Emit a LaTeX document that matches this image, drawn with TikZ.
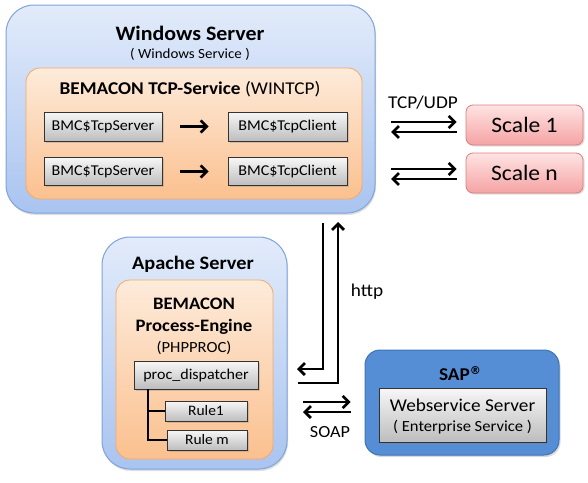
\documentclass[tikz,border=0pt]{standalone}
\usepackage{fontspec}
\setmainfont[FakeStretch=1.07]{Carlito}
\newfontfamily\symfont{DejaVu Sans}
\usetikzlibrary{arrows.meta,shadows,positioning}
\definecolor{blueTop}{HTML}{E2EBFA}
\definecolor{blueBot}{HTML}{A9C4F0}
\definecolor{blueBorder}{HTML}{7FA3DA}
\definecolor{orTop}{HTML}{FDEBDB}
\definecolor{orBot}{HTML}{FBC08E}
\definecolor{orBorder}{HTML}{F6A868}
\definecolor{grTop}{HTML}{F7F7F7}
\definecolor{grBot}{HTML}{BDBDBD}
\definecolor{rdTop}{HTML}{FFE3E3}
\definecolor{rdBot}{HTML}{F5A3A3}
\definecolor{rdBorder}{HTML}{D9807E}
\definecolor{sapFill}{HTML}{558ED5}
\definecolor{sapBorder}{HTML}{3F74B8}
\newcommand{\fs}[1]{\fontsize{#1}{#1}\selectfont}
\tikzset{
  server/.style={draw=blueBorder, line width=1pt, rounded corners=28pt, top color=blueTop, bottom color=blueBot,
     drop shadow={shadow xshift=1pt, shadow yshift=-2pt, opacity=0.25}},
  service/.style={draw=orBorder, line width=0.8pt, rounded corners=14pt, top color=orTop, bottom color=orBot},
  gbox/.style={draw=black!80, line width=0.8pt, top color=grTop, bottom color=grBot,
     drop shadow={shadow xshift=1.5pt, shadow yshift=-1.5pt, opacity=0.3}},
  scalebox/.style={draw=rdBorder, line width=0.8pt, rounded corners=7pt, top color=rdTop, bottom color=rdBot,
     drop shadow={shadow xshift=1.5pt, shadow yshift=-1.5pt, opacity=0.25}},
  sapbox/.style={draw=sapBorder, line width=1pt, rounded corners=15pt, fill=sapFill,
     drop shadow={shadow xshift=1.5pt, shadow yshift=-2pt, opacity=0.3}},
  arr/.style={line width=2.7pt, -{Straight Barb[length=6pt,width=12pt]}},
  plainline/.style={line width=2.7pt},
  txt/.style={inner sep=0pt, anchor=center},
}
\begin{document}
\begin{tikzpicture}[x=1pt,y=-1pt]
\useasboundingbox (0,0) rectangle (588,482);
% Windows server
\path[server] (6,5) rectangle (375,213);
\node[txt] (wtitle) at (190,33) {\fs{20.5}\bfseries Windows Server};
\node[txt] (wsub) at (190,54) {\fs{14}( Windows Service )};
\path[service] (26,68) rectangle (362,199);
\node[txt] (tcptitle) at (190,89) {\fs{18}\textbf{BEMACON TCP-Service} (WINTCP)};
\node[gbox, minimum width=118pt, minimum height=29pt] (s1) at (103,126.5) {\fs{15}BMC\$TcpServer};
\node[gbox, minimum width=118pt, minimum height=28pt] (s2) at (103,171.5) {\fs{15}BMC\$TcpServer};
\node[gbox, minimum width=119pt, minimum height=29pt] (c1) at (287.5,126.5) {\fs{15}BMC\$TcpClient};
\node[gbox, minimum width=119pt, minimum height=28pt] (c2) at (287.5,171.5) {\fs{15}BMC\$TcpClient};
\draw[arr] (s1.east) ++(18,0) -- ([xshift=-19pt]c1.west);
\draw[arr] (s2.east) ++(18,0) -- ([xshift=-19pt]c2.west);
% Scales
\node[scalebox, minimum width=117pt, minimum height=40pt] (sc1) at (524.5,125) {\fs{22}Scale 1};
\node[scalebox, minimum width=117pt, minimum height=40pt] (scn) at (524.5,173) {\fs{22}Scale n};
\node[txt] (tcpudp) at (423,103) {\fs{18}TCP/UDP};
\draw[arr] (391,122) -- ([xshift=-9pt]sc1.west |- 0,122);
\draw[arr] ([xshift=-9pt]sc1.west |- 0,132) -- (391,132);
\draw[arr] (391,169) -- ([xshift=-9pt]scn.west |- 0,169);
\draw[arr] ([xshift=-9pt]scn.west |- 0,179) -- (391,179);
% Apache
\path[server] (102,237) rectangle (287,469);
\node[txt] (atitle) at (193,264) {\fs{19}\bfseries Apache Server};
\path[service] (116,280) rectangle (273,459);
\node[txt] (pe1) at (194,304) {\fs{17.5}\bfseries BEMACON};
\node[txt] (pe2) at (194,327) {\fs{17.5}\bfseries Process-Engine};
\node[txt] (pe3) at (194,348) {\fs{15.5}(PHPPROC)};
\node[gbox, minimum width=124pt, minimum height=28pt] (disp) at (196,375) {\fs{15}proc\_dispatcher};
\node[gbox, minimum width=82pt, minimum height=20pt] (r1) at (206,411) {\fs{14.5}Rule1};
\node[gbox, minimum width=80pt, minimum height=20pt] (rm) at (207,440) {\fs{14.5}Rule m};
\draw[line width=2pt] (148,389) |- (r1.west);
\draw[line width=2pt] (148,410) |- (rm.west);
% http
\coordinate (h1a) at (323,223);
\coordinate (h1b) at (323,369);
\coordinate (h1c) at (297,369);
\draw[plainline, -{Straight Barb[length=6pt,width=12pt]}] (h1a) -- (h1b) -- (h1c);
\coordinate (h2a) at (298,383);
\coordinate (h2b) at (338,383);
\coordinate (h2c) at (338,222);
\draw[plainline, -{Straight Barb[length=6pt,width=12pt]}] (h2a) -- (h2b) -- (h2c);
\node[txt] (http) at (367,292) {\fs{18}http};
% SAP
\path[sapbox] (365,350) rectangle (559,455);
\node[txt] (sap) at (460,374) {\fs{18}\bfseries SAP\raisebox{6pt}{\symfont\bfseries\fs{11}®}};
\node[gbox, minimum width=167pt, minimum height=54pt] (ws) at (462.5,415) {};
\node[txt] (ws1) at (462.5,405) {\fs{18}Webservice Server};
\node[txt] (ws2) at (462.5,427) {\fs{15.5}( Enterprise Service )};
% SOAP
\draw[arr] (303,402) -- ([xshift=-28pt]ws.west |- 0,402);
\draw[arr] ([xshift=-28pt]ws.west |- 0,412) -- (303,412);
\node[txt] (soap) at (330,432) {\fs{17}SOAP};
\end{tikzpicture}
\end{document}
